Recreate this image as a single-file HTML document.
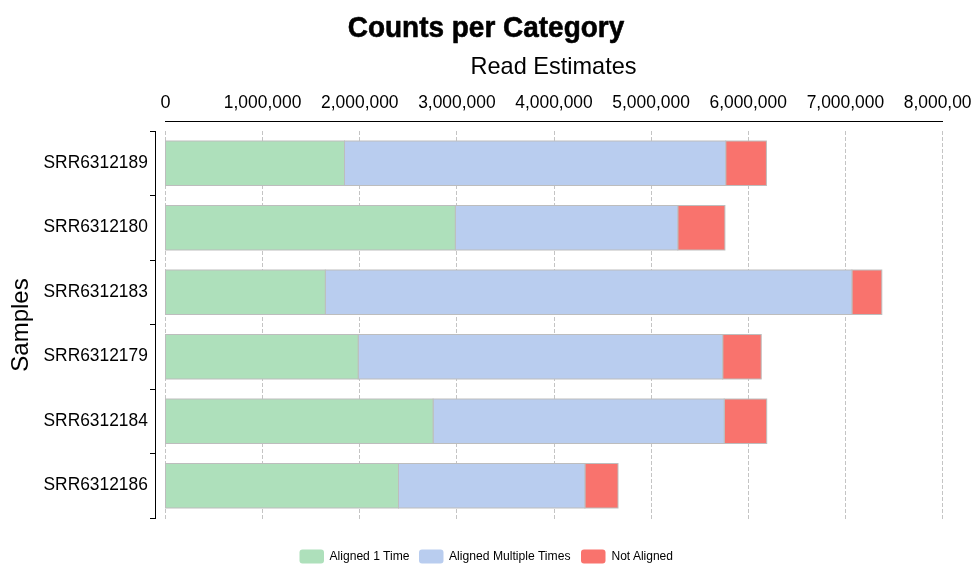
<!DOCTYPE html>
<html><head><meta charset="utf-8"><title>Counts per Category</title>
<style>
html,body{margin:0;padding:0;background:#fff;}
body{width:972px;height:569px;overflow:hidden;}
svg{display:block;font-family:"Liberation Sans",sans-serif;}
</style></head><body>
<svg width="972" height="569" viewBox="0 0 972 569">
<rect width="972" height="569" fill="#ffffff"/>
<g stroke="#c4c4c4" stroke-width="1" stroke-dasharray="4 2" shape-rendering="crispEdges">
<line x1="165.5" y1="131" x2="165.5" y2="519"/>
<line x1="262.5" y1="131" x2="262.5" y2="519"/>
<line x1="359.5" y1="131" x2="359.5" y2="519"/>
<line x1="456.5" y1="131" x2="456.5" y2="519"/>
<line x1="554.5" y1="131" x2="554.5" y2="519"/>
<line x1="651.5" y1="131" x2="651.5" y2="519"/>
<line x1="748.5" y1="131" x2="748.5" y2="519"/>
<line x1="845.5" y1="131" x2="845.5" y2="519"/>
<line x1="942.5" y1="131" x2="942.5" y2="519"/>
</g>
<g stroke="#bdbdbd" stroke-width="1">
<rect x="725.7" y="141.0" width="40.7" height="44.5" fill="#f9736d"/>
<rect x="344.5" y="141.0" width="381.2" height="44.5" fill="#b9cdef"/>
<rect x="165.5" y="141.0" width="179.0" height="44.5" fill="#aee0bb"/>
<rect x="677.8" y="205.5" width="47.1" height="44.5" fill="#f9736d"/>
<rect x="455.3" y="205.5" width="222.5" height="44.5" fill="#b9cdef"/>
<rect x="165.5" y="205.5" width="289.8" height="44.5" fill="#aee0bb"/>
<rect x="851.9" y="270.0" width="29.9" height="44.5" fill="#f9736d"/>
<rect x="325.3" y="270.0" width="526.6" height="44.5" fill="#b9cdef"/>
<rect x="165.5" y="270.0" width="159.8" height="44.5" fill="#aee0bb"/>
<rect x="722.7" y="334.5" width="38.5" height="44.5" fill="#f9736d"/>
<rect x="358.2" y="334.5" width="364.5" height="44.5" fill="#b9cdef"/>
<rect x="165.5" y="334.5" width="192.7" height="44.5" fill="#aee0bb"/>
<rect x="724.2" y="399.0" width="42.5" height="44.5" fill="#f9736d"/>
<rect x="433.1" y="399.0" width="291.1" height="44.5" fill="#b9cdef"/>
<rect x="165.5" y="399.0" width="267.6" height="44.5" fill="#aee0bb"/>
<rect x="584.9" y="463.5" width="33.1" height="44.5" fill="#f9736d"/>
<rect x="398.5" y="463.5" width="186.4" height="44.5" fill="#b9cdef"/>
<rect x="165.5" y="463.5" width="233.0" height="44.5" fill="#aee0bb"/>
</g>
<g stroke="#000" stroke-width="1" shape-rendering="crispEdges" fill="none">
<line x1="165" y1="121.5" x2="943" y2="121.5"/>
<line x1="155.5" y1="131" x2="155.5" y2="519"/>
<line x1="150" y1="131.5" x2="156" y2="131.5"/>
<line x1="150" y1="195.5" x2="156" y2="195.5"/>
<line x1="150" y1="260.5" x2="156" y2="260.5"/>
<line x1="150" y1="324.5" x2="156" y2="324.5"/>
<line x1="150" y1="389.5" x2="156" y2="389.5"/>
<line x1="150" y1="453.5" x2="156" y2="453.5"/>
<line x1="150" y1="518.5" x2="156" y2="518.5"/>
</g>
<text x="486" y="36.9" text-anchor="middle" font-size="30" font-weight="bold" fill="#000" stroke="#000" stroke-width="0.6" stroke-linejoin="round" textLength="276.5" lengthAdjust="spacingAndGlyphs">Counts per Category</text>
<text x="553.5" y="74" text-anchor="middle" font-size="24" fill="#000" textLength="166" lengthAdjust="spacingAndGlyphs">Read Estimates</text>
<text x="165.5" y="108" text-anchor="middle" font-size="18" fill="#000">0</text>
<text x="262.6" y="108" text-anchor="middle" font-size="18" fill="#000" textLength="77.5" lengthAdjust="spacingAndGlyphs">1,000,000</text>
<text x="359.8" y="108" text-anchor="middle" font-size="18" fill="#000" textLength="77.5" lengthAdjust="spacingAndGlyphs">2,000,000</text>
<text x="456.9" y="108" text-anchor="middle" font-size="18" fill="#000" textLength="77.5" lengthAdjust="spacingAndGlyphs">3,000,000</text>
<text x="554.0" y="108" text-anchor="middle" font-size="18" fill="#000" textLength="77.5" lengthAdjust="spacingAndGlyphs">4,000,000</text>
<text x="651.1" y="108" text-anchor="middle" font-size="18" fill="#000" textLength="77.5" lengthAdjust="spacingAndGlyphs">5,000,000</text>
<text x="748.2" y="108" text-anchor="middle" font-size="18" fill="#000" textLength="77.5" lengthAdjust="spacingAndGlyphs">6,000,000</text>
<text x="845.4" y="108" text-anchor="middle" font-size="18" fill="#000" textLength="77.5" lengthAdjust="spacingAndGlyphs">7,000,000</text>
<text x="942.5" y="108" text-anchor="middle" font-size="18" fill="#000" textLength="77.5" lengthAdjust="spacingAndGlyphs">8,000,000</text>
<text x="147.8" y="168.1" text-anchor="end" font-size="18" fill="#000" textLength="104.3" lengthAdjust="spacingAndGlyphs">SRR6312189</text>
<text x="147.8" y="232.0" text-anchor="end" font-size="18" fill="#000" textLength="104.3" lengthAdjust="spacingAndGlyphs">SRR6312180</text>
<text x="147.8" y="296.6" text-anchor="end" font-size="18" fill="#000" textLength="104.3" lengthAdjust="spacingAndGlyphs">SRR6312183</text>
<text x="147.8" y="360.7" text-anchor="end" font-size="18" fill="#000" textLength="104.3" lengthAdjust="spacingAndGlyphs">SRR6312179</text>
<text x="147.8" y="425.6" text-anchor="end" font-size="18" fill="#000" textLength="104.3" lengthAdjust="spacingAndGlyphs">SRR6312184</text>
<text x="147.8" y="489.9" text-anchor="end" font-size="18" fill="#000" textLength="104.3" lengthAdjust="spacingAndGlyphs">SRR6312186</text>
<text transform="translate(28,325) rotate(-90)" text-anchor="middle" font-size="24" fill="#000" textLength="93.5" lengthAdjust="spacingAndGlyphs">Samples</text>
<rect x="299.5" y="549.5" width="24.5" height="14" rx="3" ry="3" fill="#aee0bb"/>
<rect x="419" y="549.5" width="24.5" height="14" rx="3" ry="3" fill="#b9cdef"/>
<rect x="581" y="549.5" width="24.5" height="14" rx="3" ry="3" fill="#f9736d"/>
<g font-size="12" fill="#000">
<text x="329.5" y="559.5" textLength="80" lengthAdjust="spacingAndGlyphs">Aligned 1 Time</text>
<text x="449" y="559.5" textLength="121.5" lengthAdjust="spacingAndGlyphs">Aligned Multiple Times</text>
<text x="611.5" y="559.5" textLength="61.5" lengthAdjust="spacingAndGlyphs">Not Aligned</text>
</g>
</svg></body></html>
